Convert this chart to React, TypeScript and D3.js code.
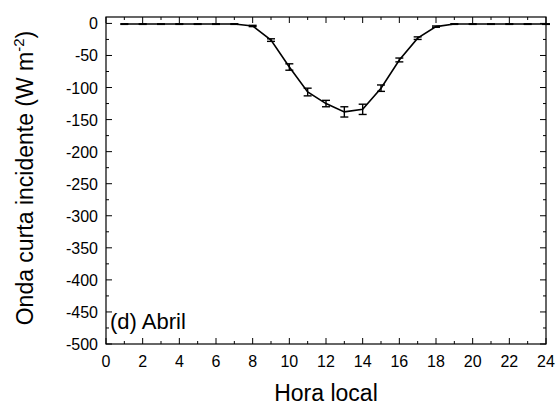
import { useEffect, useRef } from 'react';
import * as d3 from 'd3';

// hours of the day and mean incident shortwave (W m-2), with error bars
const hours = [1, 2, 3, 4, 5, 6, 7, 8, 9, 10, 11, 12, 13, 14, 15, 16, 17, 18, 19, 20, 21, 22, 23, 24];
const values = [-1, -1, -1, -1, -1, -1, -1, -4, -26, -68, -107, -125, -138, -134, -101, -57, -23, -5, -1, -1, -1, -1, -1, -1];
const errors = [0.5, 0.5, 0.5, 0.5, 0.5, 0.5, 0.5, 1, 2, 5, 6, 5, 8, 8, 5, 3, 2, 1, 0.5, 0.5, 0.5, 0.5, 0.5, 0.5];
const xTicks = [0, 2, 4, 6, 8, 10, 12, 14, 16, 18, 20, 22, 24];
const yTicks = [0, -50, -100, -150, -200, -250, -300, -350, -400, -450, -500];

const W = 560;
const H = 408;
const margin = { left: 106, right: 14, top: 17, bottom: 64 };

const App = () => {
  const ref = useRef<SVGSVGElement>(null);

  useEffect(() => {
    const svg = d3.select(ref.current);
    svg.selectAll('*').remove();

    const x = d3.scaleLinear().domain([0, 24]).range([margin.left, W - margin.right]);
    const y = d3.scaleLinear().domain([-500, 10]).range([H - margin.bottom, margin.top]);
    const font = 'Liberation Sans, Arial, sans-serif';

    // frame
    svg.append('rect')
      .attr('x', x(0)).attr('y', y(10))
      .attr('width', x(24) - x(0)).attr('height', y(-500) - y(10))
      .attr('fill', 'none').attr('stroke', '#000').attr('stroke-width', 1.2);

    // ticks on all four sides, pointing in
    const g = svg.append('g').attr('stroke', '#000').attr('stroke-width', 1);
    for (let h = 0; h <= 24; h++) {
      const len = h % 2 === 0 ? 6 : 3;
      g.append('line').attr('x1', x(h)).attr('x2', x(h)).attr('y1', y(-500)).attr('y2', y(-500) - len);
      g.append('line').attr('x1', x(h)).attr('x2', x(h)).attr('y1', y(10)).attr('y2', y(10) + len);
    }
    for (let v = -500; v <= 0; v += 25) {
      const len = v % 50 === 0 ? 6 : 3;
      g.append('line').attr('x1', x(0)).attr('x2', x(0) + len).attr('y1', y(v)).attr('y2', y(v));
      g.append('line').attr('x1', x(24)).attr('x2', x(24) - len).attr('y1', y(v)).attr('y2', y(v));
    }

    // tick labels
    svg.append('g').selectAll('text').data(xTicks).join('text')
      .attr('x', d => x(d)).attr('y', y(-500) + 23)
      .attr('text-anchor', 'middle').attr('font-family', font).attr('font-size', 16)
      .text(d => d);
    svg.append('g').selectAll('text').data(yTicks).join('text')
      .attr('x', x(0) - 8).attr('y', d => y(d) + 6)
      .attr('text-anchor', 'end').attr('font-family', font).attr('font-size', 16)
      .text(d => d);

    // axis titles
    svg.append('text')
      .attr('x', (x(0) + x(24)) / 2).attr('y', 401)
      .attr('text-anchor', 'middle').attr('font-family', font).attr('font-size', 23)
      .text('Hora local');
    const yl = svg.append('text')
      .attr('transform', 'translate(33,178) rotate(-90)')
      .attr('text-anchor', 'middle').attr('font-family', font).attr('font-size', 23);
    yl.append('tspan').text('Onda curta incidente (W m');
    yl.append('tspan').attr('dy', -9).attr('font-size', 15).text('-2');
    yl.append('tspan').attr('dy', 9).text(')');

    // line
    const pts = hours.map((h, i) => ({ h, v: values[i], e: errors[i] }));
    svg.append('path').datum(pts)
      .attr('d', d3.line<{ h: number; v: number }>().x(d => x(d.h)).y(d => y(d.v)))
      .attr('fill', 'none').attr('stroke', '#000').attr('stroke-width', 1.6);

    // error bars
    const eb = svg.append('g').attr('stroke', '#000').attr('stroke-width', 1.4);
    pts.forEach(d => {
      eb.append('line').attr('x1', x(d.h)).attr('x2', x(d.h)).attr('y1', y(d.v - d.e)).attr('y2', y(d.v + d.e));
      eb.append('line').attr('x1', x(d.h) - 4).attr('x2', x(d.h) + 4).attr('y1', y(d.v - d.e)).attr('y2', y(d.v - d.e));
      eb.append('line').attr('x1', x(d.h) - 4).attr('x2', x(d.h) + 4).attr('y1', y(d.v + d.e)).attr('y2', y(d.v + d.e));
    });

    // panel label
    svg.append('text')
      .attr('x', x(0) + 4).attr('y', 329)
      .attr('font-family', font).attr('font-size', 22)
      .text('(d) Abril');
  }, []);

  return (
    <svg ref={ref} width={W} height={H}
      style={{ position: 'absolute', left: 0, top: 0, background: '#fff' }} />
  );
};

export default App;
